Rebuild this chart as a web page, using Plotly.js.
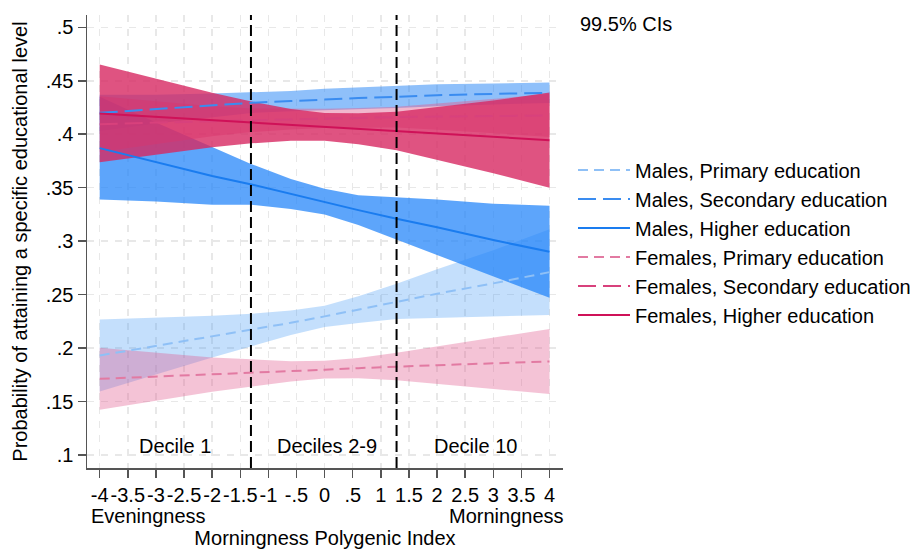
<!DOCTYPE html>
<html>
<head>
<meta charset="utf-8">
<script src="https://cdn.plot.ly/plotly-3.0.1.min.js"></script>
<style>html,body{margin:0;padding:0;background:#fff;}#chart{width:921px;height:549px;}</style>
</head>
<body>
<div id="chart"></div>
<script>
// Morningness polygenic index values at which predictions are shown
const pgi = [-4, -3, -2, -1.3, -0.6, 0, 0.6, 1.28, 2, 3, 4];

// Males, Primary education
const mPrimMid = [0.193, 0.2018, 0.2107, 0.217, 0.2236, 0.2296, 0.236, 0.2437, 0.2508, 0.2605, 0.271];
const mPrimHi  = [0.2266, 0.2283, 0.2302, 0.232, 0.2351, 0.2396, 0.2485, 0.2602, 0.2738, 0.2915, 0.311];
const mPrimLo  = [0.1594, 0.1753, 0.1912, 0.202, 0.2121, 0.2196, 0.2235, 0.2272, 0.2278, 0.2295, 0.231];

// Males, Secondary education
const mSecMid = [0.420, 0.4235, 0.427, 0.4294, 0.431, 0.4325, 0.4338, 0.435, 0.4365, 0.4377, 0.4388];
const mSecHi  = [0.437, 0.437, 0.438, 0.4389, 0.4405, 0.4425, 0.444, 0.4455, 0.4468, 0.4475, 0.4483];
const mSecLo  = [0.403, 0.410, 0.416, 0.4199, 0.4215, 0.4225, 0.4236, 0.4245, 0.4262, 0.4279, 0.4293];

// Males, Higher education
const mHighMid = [0.387, 0.374, 0.361, 0.353, 0.344, 0.337, 0.329, 0.321, 0.313, 0.301, 0.290];
const mHighHi  = [0.435, 0.411, 0.388, 0.372, 0.358, 0.349, 0.343, 0.341, 0.339, 0.335, 0.333];
const mHighLo  = [0.339, 0.337, 0.334, 0.334, 0.330, 0.325, 0.315, 0.301, 0.287, 0.267, 0.247];

// Females, Primary education
const fPrimMid = [0.1712, 0.1732, 0.1752, 0.1766, 0.1782, 0.1797, 0.1812, 0.1827, 0.1840, 0.1857, 0.1874];
const fPrimHi  = [0.2002, 0.1957, 0.1912, 0.1894, 0.1877, 0.188, 0.1907, 0.1955, 0.2015, 0.2097, 0.2179];
const fPrimLo  = [0.1422, 0.1507, 0.1592, 0.1638, 0.1687, 0.1714, 0.1717, 0.1699, 0.1665, 0.1617, 0.1569];

// Females, Secondary education
const fSecMid = [0.4094, 0.411, 0.4122, 0.413, 0.414, 0.4147, 0.4153, 0.416, 0.4165, 0.417, 0.4175];
const fSecHi  = [0.4354, 0.431, 0.4262, 0.424, 0.4235, 0.4237, 0.4245, 0.4258, 0.4288, 0.433, 0.4375];
const fSecLo  = [0.3834, 0.391, 0.3982, 0.402, 0.4045, 0.4057, 0.4061, 0.4062, 0.4042, 0.401, 0.3975];

// Females, Higher education
const fHighMid = [0.4194, 0.4163, 0.4132, 0.411, 0.4088, 0.4069, 0.405, 0.4029, 0.4006, 0.3975, 0.3944];
const fHighHi  = [0.4651, 0.4519, 0.4387, 0.4305, 0.4236, 0.4199, 0.4195, 0.4209, 0.4251, 0.4315, 0.4389];
const fHighLo  = [0.3737, 0.3807, 0.3877, 0.3915, 0.394, 0.3939, 0.3905, 0.3849, 0.3761, 0.3635, 0.3499];

// Decile cut-offs of the index
const decileCuts = [-1.31, 1.28];
const decileLabels = ["Decile 1", "Deciles 2-9", "Decile 10"];

const seriesNames = ["Males, Primary education", "Males, Secondary education", "Males, Higher education",
                     "Females, Primary education", "Females, Secondary education", "Females, Higher education"];

// Tick labels
const xTickVals = [-4, -3.5, -3, -2.5, -2, -1.5, -1, -0.5, 0, 0.5, 1, 1.5, 2, 2.5, 3, 3.5, 4];
const xTickText = ["-4", "-3.5", "-3", "-2.5", "-2", "-1.5", "-1", "-.5", "0", ".5", "1", "1.5", "2", "2.5", "3", "3.5", "4"];
const yTickVals = [0.1, 0.15, 0.2, 0.25, 0.3, 0.35, 0.4, 0.45, 0.5];
const yTickText = [".1", ".15", ".2", ".25", ".3", ".35", ".4", ".45", ".5"];

const series = [
  {mid: mPrimMid, hi: mPrimHi, lo: mPrimLo, fill: "rgba(60,150,245,0.30)", line: "#8fc0f6", dash: "10px,6px"},
  {mid: mSecMid,  hi: mSecHi,  lo: mSecLo,  fill: "rgba(40,135,245,0.52)", line: "#3a8cf0", dash: "18px,7px"},
  {mid: mHighMid, hi: mHighHi, lo: mHighLo, fill: "rgba(30,130,250,0.72)", line: "#1a7cef", dash: "solid"},
  {mid: fPrimMid, hi: fPrimHi, lo: fPrimLo, fill: "rgba(225,90,140,0.36)", line: "#e27aa2", dash: "10px,6px"},
  {mid: fSecMid,  hi: fSecHi,  lo: fSecLo,  fill: "rgba(225,95,145,0.45)", line: "#d8417c", dash: "18px,7px"},
  {mid: fHighMid, hi: fHighHi, lo: fHighLo, fill: "rgba(215,40,98,0.80)",  line: "#cf1158", dash: "solid"}
];

const traces = [];
series.forEach(function (s) {
  traces.push({
    type: "scatter", mode: "lines",
    x: pgi.concat(pgi.slice().reverse()),
    y: s.hi.concat(s.lo.slice().reverse()),
    fill: "toself", fillcolor: s.fill,
    line: {width: 0, color: "rgba(0,0,0,0)"},
    hoverinfo: "skip", showlegend: false
  });
});
series.forEach(function (s, i) {
  traces.push({
    type: "scatter", mode: "lines",
    x: pgi, y: s.mid, name: seriesNames[i],
    line: {color: s.line, width: 2, dash: s.dash}
  });
});

const font = "Liberation Sans, Arial, sans-serif";
const fs = 20;
const shapes = decileCuts.map(function (c) {
  return {type: "line", xref: "x", yref: "paper", x0: c, x1: c, y0: 0, y1: 1,
          line: {color: "#000", width: 2, dash: "11px,5px"}};
});

const labelX = [-2.66, 0.05, 2.68];
const annotations = decileLabels.map(function (t, i) {
  return {text: t, xref: "x", yref: "y", x: labelX[i], y: 0.108, showarrow: false,
          font: {size: fs, color: "#000", family: font}, xanchor: "center", yanchor: "middle"};
});
annotations.push({text: "99.5% CIs", xref: "paper", yref: "paper", x: 1.0315, y: 0.98,
  xanchor: "left", yanchor: "middle", showarrow: false, font: {size: fs, color: "#000", family: font}});
annotations.push({text: "Eveningness", xref: "paper", yref: "paper", x: 0.004, y: 0, yshift: -48,
  xanchor: "left", yanchor: "middle", showarrow: false, font: {size: fs, color: "#000", family: font}});
annotations.push({text: "Morningness", xref: "paper", yref: "paper", x: 1.006, y: 0, yshift: -48,
  xanchor: "right", yanchor: "middle", showarrow: false, font: {size: fs, color: "#000", family: font}});

const axisCommon = {
  ticks: "outside", ticklen: 8, tickwidth: 1.5, tickcolor: "#555",
  showline: true, linecolor: "#555", linewidth: 1.5,
  showgrid: true, gridcolor: "#e8e8e8", gridwidth: 1.5, griddash: "7px,7px",
  zeroline: false, tickfont: {size: fs, color: "#000", family: font}
};

const layout = {
  width: 921, height: 549,
  margin: {l: 87, r: 358, t: 15, b: 81, autoexpand: false},
  paper_bgcolor: "#fff", plot_bgcolor: "#fff",
  font: {family: font, color: "#000", size: fs},
  xaxis: Object.assign({}, axisCommon, {
    range: [-4.226, 4.24], tickvals: xTickVals, ticktext: xTickText, tickangle: 0,
    title: {text: "Morningness Polygenic Index", font: {size: fs, family: font}, standoff: 33}
  }),
  yaxis: Object.assign({}, axisCommon, {
    range: [0.0878, 0.5115], tickvals: yTickVals, ticktext: yTickText,
    title: {text: "Probability of attaining a specific educational level", font: {size: fs, family: font}, standoff: 12}
  }),
  legend: {x: 1.021, y: 0.701, xanchor: "left", yanchor: "top", itemwidth: 52,
           font: {size: fs, color: "#000", family: font}, bgcolor: "rgba(0,0,0,0)", tracegroupgap: 0},
  shapes: shapes,
  annotations: annotations,
  showlegend: true
};

Plotly.newPlot("chart", traces, layout, {displayModeBar: false, staticPlot: true});
</script>
</body>
</html>
